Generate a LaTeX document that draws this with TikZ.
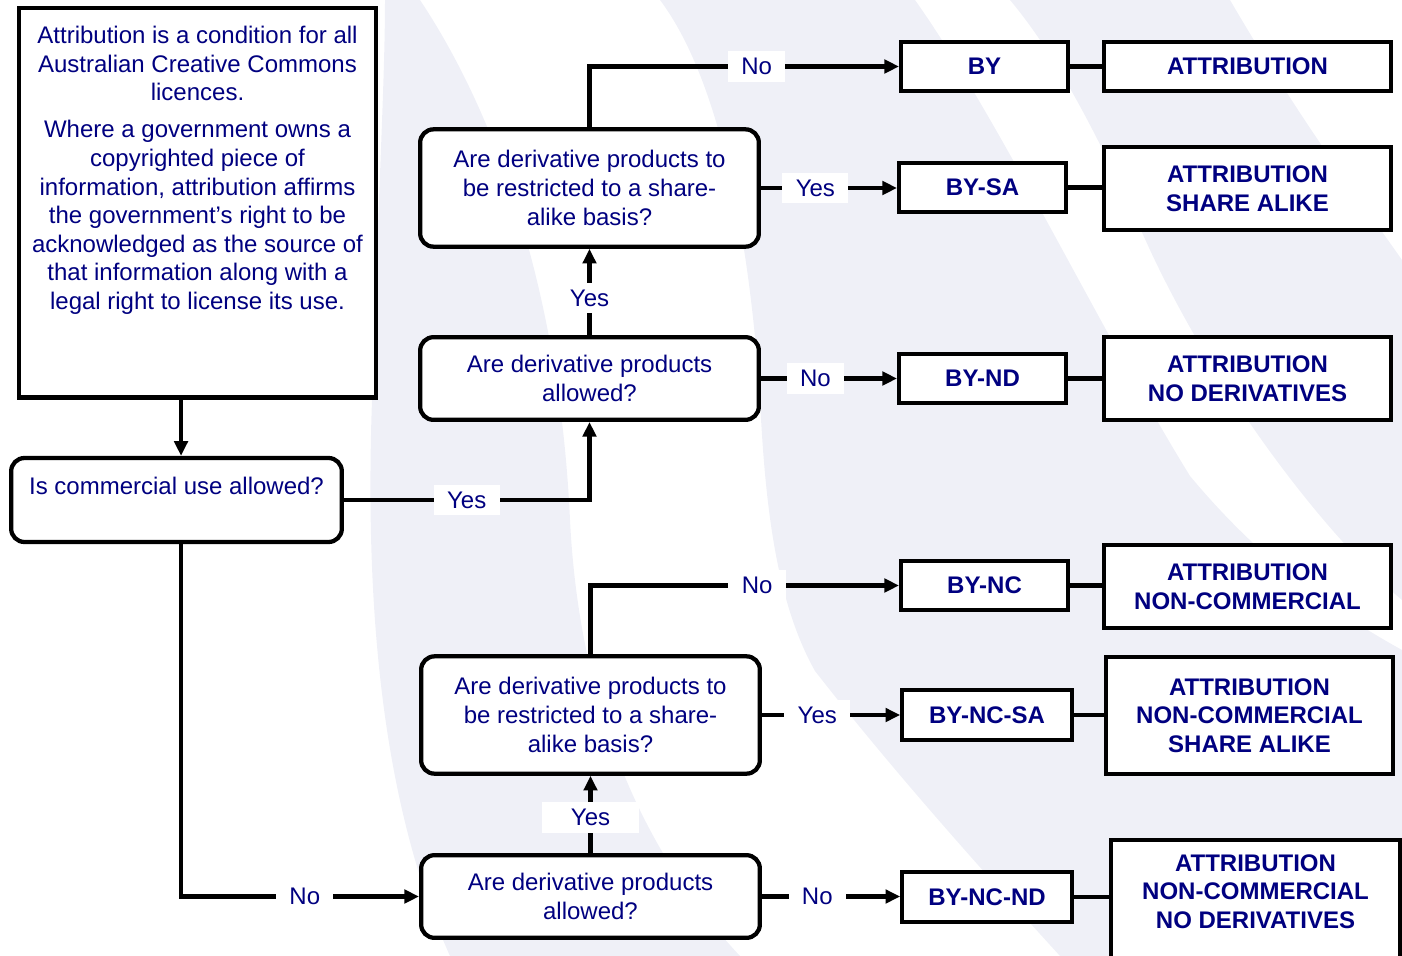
\documentclass[tikz,border=0pt]{standalone}
\usepackage{fontspec}
\setmainfont{Liberation Sans}
\usepackage{tikz}
\usetikzlibrary{positioning, arrows.meta}

\definecolor{navytext}{HTML}{000080}
\definecolor{wave}{HTML}{EFF0F7}

\tikzset{
  qbox/.style={draw, line width=3.2pt, rounded corners=10pt, fill=white,
    text=navytext, align=center, font=\fontsize{18}{21.45}\selectfont,
    minimum width=254pt, inner sep=0pt},
  codebox/.style={draw, line width=3.2pt, fill=white, text=navytext,
    font=\fontsize{18}{21.45}\selectfont\bfseries, minimum width=125pt,
    minimum height=37pt, inner sep=0pt},
  namebox/.style={draw, line width=3.2pt, fill=white, text=navytext, align=center,
    font=\fontsize{18}{21.45}\selectfont\bfseries, minimum width=215pt, inner sep=0pt},
  answer/.style={fill=white, text=navytext, font=\fontsize{18}{21.45}\selectfont,
    inner xsep=10pt, inner ysep=5pt},
  flow/.style={line width=3.2pt},
  arr/.style={flow, -{Triangle[length=11pt, width=10pt]}}
}

\begin{document}
\begin{tikzpicture}[x=0.75pt, y=-0.75pt]
\useasboundingbox (0,0) rectangle (1402,956);

% background waves
\fill[wave] (385,0) -- (420,0) .. controls (500,120) and (560,300) .. (570,520)
  .. controls (580,720) and (650,860) .. (740,956) -- (450,956)
  .. controls (380,800) and (365,600) .. (372,400)
  .. controls (378,200) and (385,80) .. cycle;
\fill[wave] (660,0) -- (915,0) .. controls (1000,120) and (1100,330) .. (1190,476)
  .. controls (1260,560) and (1330,610) .. (1402,650) -- (1402,956) -- (1060,956)
  .. controls (1000,890) and (900,780) .. (815,671)
  .. controls (775,600) and (765,500) .. (760,400)
  .. controls (750,240) and (720,80) .. cycle;
\fill[wave] (1010,0) -- (1230,0) .. controls (1300,120) and (1360,200) .. (1402,260)
  -- (1402,600) .. controls (1330,540) and (1220,400) .. (1150,250)
  .. controls (1100,140) and (1060,60) .. cycle;

% left column
\node[draw, line width=3.2pt, fill=white, minimum width=268pt, minimum height=292pt,
  anchor=north] (info) at (197.5,6) {};
\node[text=navytext, align=center, font=\fontsize{18}{21.45}\selectfont,
  anchor=north, inner sep=0pt] (infotext) at (197.5,26)
  {Attribution is a condition for all\\ Australian Creative Commons\\ licences.\\[6.4pt]
   Where a government owns a\\ copyrighted piece of\\ information, attribution affirms\\
   the government's right to be\\ acknowledged as the source of\\
   that information along with a\\ legal right to license its use.};
\node[qbox, minimum width=248pt, minimum height=63pt] (commercial) at (176.5,500)
  {Is commercial use allowed?\\ \mbox{}};

% commercial branch
\node[qbox, minimum height=62pt] (deriv) at (589.5,378.5) {Are derivative products\\ allowed?};
\node[qbox, minimum height=88pt] (share) at (589.5,188) {Are derivative products to\\ be restricted to a share-\\ alike basis?};
\node[codebox] (by) at (984.5,66.5) {BY};
\node[codebox] (bysa) at (982.5,187.5) {BY-SA};
\node[codebox] (bynd) at (982.5,378.5) {BY-ND};
\node[namebox, minimum height=37pt] (attr) at (1247.5,66.5) {ATTRIBUTION};
\node[namebox, minimum height=62pt] (attrsa) at (1247.5,188.5) {ATTRIBUTION\\ SHARE ALIKE};
\node[namebox, minimum height=62pt] (attrnd) at (1247.5,378.5) {ATTRIBUTION\\ NO DERIVATIVES};

% non-commercial branch
\node[qbox, minimum height=62pt] (ncderiv) at (590.5,896.5) {Are derivative products\\ allowed?};
\node[qbox, minimum height=88pt] (ncshare) at (590.5,715) {Are derivative products to\\ be restricted to a share-\\ alike basis?};
\node[codebox] (bync) at (984.5,585.5) {BY-NC};
\node[codebox, minimum width=127pt] (byncsa) at (987,715) {BY-NC-SA};
\node[codebox, minimum width=127pt] (byncnd) at (987,897) {BY-NC-ND};
\node[namebox, minimum height=62pt] (attrnc) at (1247.5,586.5) {ATTRIBUTION\\ NON-COMMERCIAL};
\node[namebox, minimum height=88pt] (attrncsa) at (1249.5,715.5) {ATTRIBUTION\\ NON-COMMERCIAL\\ SHARE ALIKE};
\node[namebox, minimum width=217pt, minimum height=95pt] (attrncnd) at (1255.5,903) {};
\node[text=navytext, align=center, font=\fontsize{18}{21.45}\selectfont\bfseries,
  inner sep=0pt] (attrncndtext) at (1255.5,891.5)
  {ATTRIBUTION\\ NON-COMMERCIAL\\ NO DERIVATIVES};

% connectors
\draw[arr] ([xshift=3.4pt]commercial.north |- info.south) -- ([xshift=3.4pt]commercial.north);
\draw[arr] (commercial.east) -| node[answer, pos=0.25] {Yes} (deriv.south);
\draw[arr] ([xshift=3.4pt]commercial.south) |- node[answer, pos=0.76] {No} (ncderiv.west);

\draw[arr] (deriv.north) -- node[answer, inner xsep=0pt, pos=0.43] {Yes} (share.south);
\draw[arr] (share.north) |- node[answer, pos=0.77] {No} (by.west);
\draw[arr] (share.east) -- node[answer, pos=0.4] {Yes} (share.east -| bysa.west);
\draw[arr] (deriv.east) -- node[answer, pos=0.4] {No} (deriv.east -| bynd.west);

\draw[arr] (ncderiv.north) -- node[answer, inner xsep=22pt, pos=0.46] {Yes} (ncshare.south);
\draw[arr] (ncshare.north) |- node[answer, pos=0.77] {No} (bync.west);
\draw[arr] (ncshare.east) -- node[answer, pos=0.4] {Yes} (ncshare.east -| byncsa.west);
\draw[arr] (ncderiv.east) -- node[answer, pos=0.4] {No} (ncderiv.east -| byncnd.west);

\draw[flow] (by.east) -- (by.east -| attr.west);
\draw[flow] (bysa.east) -- (bysa.east -| attrsa.west);
\draw[flow] (bynd.east) -- (bynd.east -| attrnd.west);
\draw[flow] (bync.east) -- (bync.east -| attrnc.west);
\draw[flow] (byncsa.east) -- (byncsa.east -| attrncsa.west);
\draw[flow] (byncnd.east) -- (byncnd.east -| attrncnd.west);
\end{tikzpicture}
\end{document}
